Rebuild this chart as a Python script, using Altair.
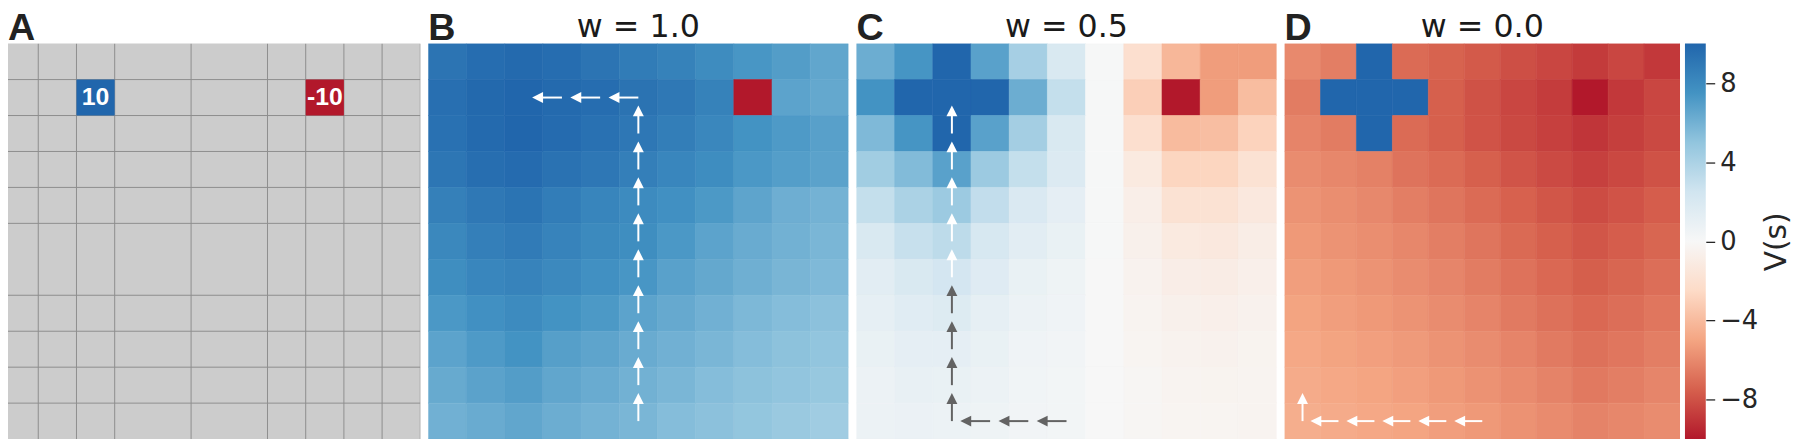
import altair as alt
import pandas as pd

N = 11
ROWS = list(range(N))
COLS = list(range(N))

# ---- Panel A: reward locations ----
reward_row = [1, 1]
reward_col = [2, 8]
reward_val = [10, -10]
# grid lines visible in panel A (column / row boundaries)
grid_cols_drawn = [1, 2, 3, 5, 7, 8, 9, 10, 11]
grid_rows_drawn = [1, 2, 3, 4, 5, 7, 8, 9, 10]

# ---- Value maps V(s) ----
V_w10 = [
    [9.2, 9.6, 9.8, 9.6, 9.2, 8.8, 8.45, 7.9, 7.35, 7.0, 6.55],
    [9.5, 9.85, 10.0, 9.8, 9.6, 9.3, 9.0, 8.45, -10.0, 6.7, 6.45],
    [9.4, 9.8, 10.0, 9.7, 9.4, 9.05, 8.65, 8.15, 7.5, 7.15, 6.85],
    [9.1, 9.55, 9.7, 9.35, 9.05, 8.6, 8.2, 7.85, 7.25, 6.95, 6.75],
    [8.55, 9.0, 9.25, 8.75, 8.3, 7.95, 7.65, 7.2, 6.65, 6.15, 5.95],
    [8.1, 8.6, 8.85, 8.4, 8.0, 7.8, 7.25, 6.7, 6.3, 6.0, 5.75],
    [7.8, 8.2, 8.4, 8.05, 7.65, 7.35, 6.8, 6.45, 6.1, 5.8, 5.6],
    [7.25, 7.65, 7.95, 7.5, 7.2, 6.7, 6.4, 6.05, 5.65, 5.4, 5.2],
    [6.7, 7.15, 7.5, 6.9, 6.65, 6.3, 6.05, 5.75, 5.4, 5.15, 5.0],
    [6.35, 6.75, 7.0, 6.55, 6.3, 6.0, 5.75, 5.4, 5.15, 5.0, 4.8],
    [6.05, 6.3, 6.55, 6.2, 5.95, 5.75, 5.4, 5.2, 4.95, 4.7, 4.45],
]
V_w05 = [
    [6.2, 7.4, 10.0, 6.8, 4.2, 2.0, 0.05, -2.1, -4.15, -5.3, -5.3],
    [7.5, 10.0, 10.0, 10.0, 6.2, 3.0, 0.05, -3.05, -10.0, -5.3, -3.9],
    [5.6, 7.4, 10.0, 6.8, 4.3, 2.0, 0.05, -2.1, -4.0, -3.85, -2.85],
    [4.4, 5.5, 6.8, 4.6, 3.0, 1.8, 0.05, -1.2, -2.75, -2.75, -1.85],
    [3.0, 4.0, 4.6, 3.1, 1.9, 1.2, 0.05, -0.8, -1.85, -1.85, -1.3],
    [2.0, 2.9, 3.3, 2.1, 1.4, 0.9, 0.05, -0.6, -1.2, -1.3, -0.9],
    [1.4, 2.0, 2.3, 1.6, 0.9, 0.6, 0.03, -0.45, -0.85, -0.95, -0.7],
    [1.1, 1.5, 1.7, 1.1, 0.7, 0.5, 0.03, -0.35, -0.6, -0.7, -0.5],
    [0.9, 1.2, 1.2, 0.9, 0.5, 0.4, 0.02, -0.3, -0.45, -0.5, -0.4],
    [0.7, 1.0, 0.9, 0.7, 0.45, 0.3, 0.02, -0.2, -0.35, -0.4, -0.35],
    [0.7, 0.8, 0.7, 0.6, 0.4, 0.3, 0.02, -0.2, -0.3, -0.3, -0.35],
]
V_w00 = [
    [-6.0, -6.4, 10.0, -7.1, -7.4, -7.7, -8.1, -8.4, -8.8, -8.4, -8.9],
    [-6.5, 10.0, 10.0, 10.0, -7.5, -8.0, -8.4, -8.75, -10.0, -8.9, -8.4],
    [-6.2, -6.5, 10.0, -7.1, -7.5, -7.95, -8.3, -8.6, -9.0, -8.65, -8.3],
    [-5.9, -6.1, -6.3, -6.8, -7.1, -7.5, -7.9, -8.25, -8.6, -8.35, -8.0],
    [-5.65, -5.85, -6.05, -6.4, -6.75, -7.1, -7.45, -7.85, -8.2, -7.95, -7.6],
    [-5.45, -5.65, -5.85, -6.1, -6.4, -6.75, -7.15, -7.5, -7.85, -7.6, -7.3],
    [-5.25, -5.45, -5.65, -5.9, -6.15, -6.5, -6.85, -7.2, -7.55, -7.3, -7.0],
    [-5.05, -5.25, -5.45, -5.65, -5.9, -6.2, -6.55, -6.9, -7.2, -7.0, -6.7],
    [-4.85, -5.05, -5.2, -5.4, -5.65, -5.9, -6.2, -6.55, -6.9, -6.7, -6.4],
    [-4.7, -4.85, -5.0, -5.2, -5.45, -5.7, -5.95, -6.25, -6.6, -6.4, -6.15],
    [-4.6, -4.7, -4.85, -5.0, -5.25, -5.45, -5.7, -5.95, -6.25, -6.1, -5.9],
]

# ---- Greedy paths (row, col) ----
path_w10 = [(10, 5), (9, 5), (8, 5), (7, 5), (6, 5), (5, 5), (4, 5), (3, 5),
            (2, 5), (1, 5), (1, 4), (1, 3), (1, 2)]
path_w05 = [(10, 5), (10, 4), (10, 3), (10, 2), (9, 2), (8, 2), (7, 2), (6, 2),
            (5, 2), (4, 2), (3, 2), (2, 2), (1, 2)]
path_w00 = [(10, 5), (10, 4), (10, 3), (10, 2), (10, 1), (10, 0), (9, 0)]

# ---- Colour bar ----
cbar_domain = [-10, 10]
cbar_ticks = [8, 4, 0, -4, -8]
color_stops = [-10, -7.5, -5, -2.5, 0, 2.5, 5, 7.5, 10]
color_hex = ["#b2182b", "#d6604d", "#f4a582", "#fddbc7", "#f7f7f7",
             "#d1e5f0", "#92c5de", "#4393c3", "#2166ac"]

# ---------------------------------------------------------------
PANEL_H = 399
A_CUT = N * 8 / 424.0
color_scale = alt.Scale(domain=color_stops, range=color_hex, interpolate="rgb")
y_scale = alt.Scale(domain=[0, N], reverse=True, nice=False, zero=False)
SHAFT, TIP = 0.6, 0.78
DIR_ANGLE = {(-1, 0): 0, (0, 1): 90, (1, 0): 180, (0, -1): 270}
ARROW = "M0,0L-1,2L1,2Z"


def xsc(lo):
    return alt.Scale(domain=[lo, N], nice=False, zero=False)


def cells_df(V):
    return pd.DataFrame([
        {"row": r, "col": c, "row2": r + 1, "col2": c + 1, "v": V[r][c]}
        for r in ROWS for c in COLS
    ])


def arrows_df(path, V):
    recs = []
    for (r0, c0), (r1, c1) in zip(path[:-1], path[1:]):
        dr, dc = r1 - r0, c1 - c0
        cx, cy = c0 + 0.5, r0 + 0.5
        recs.append({
            "xs": cx, "ys": cy,
            "xe": cx + SHAFT * dc, "ye": cy + SHAFT * dr,
            "xt": cx + TIP * dc, "yt": cy + TIP * dr,
            "ang": DIR_ANGLE[(dr, dc)], "v": V[r0][c0],
        })
    return pd.DataFrame(recs)


def text_layers(letter, title, lo):
    sc = xsc(lo)
    out = [alt.Chart(pd.DataFrame({"x": [lo], "y": [0], "t": [letter]})).mark_text(
        align="left", baseline="alphabetic", dy=-4, font="Liberation Sans",
        fontWeight="bold", fontSize=38, color="#222222"
    ).encode(x=alt.X("x:Q", scale=sc, axis=None),
             y=alt.Y("y:Q", scale=y_scale, axis=None), text="t:N")]
    if title:
        out.append(alt.Chart(pd.DataFrame({"x": [N / 2], "y": [0], "t": [title]})).mark_text(
            align="center", baseline="alphabetic", dy=-7, font="DejaVu Sans",
            fontSize=32, color="#1a1a1a"
        ).encode(x=alt.X("x:Q", scale=sc, axis=None),
                 y=alt.Y("y:Q", scale=y_scale, axis=None), text="t:N"))
    return out


def value_panel(V, path, letter, title, width):
    sc = xsc(0)
    cells = alt.Chart(cells_df(V)).mark_rect(clip=True, strokeWidth=0.6).encode(
        x=alt.X("col:Q", scale=sc, axis=None), x2="col2:Q",
        y=alt.Y("row:Q", scale=y_scale, axis=None), y2="row2:Q",
        fill=alt.Fill("v:Q", scale=color_scale, legend=None),
        stroke=alt.Stroke("v:Q", scale=color_scale, legend=None),
    )
    adf = arrows_df(path, V)
    acol = alt.condition("abs(datum.v) > 2", alt.value("#ffffff"), alt.value("#636363"))
    shafts = alt.Chart(adf).mark_rule(strokeWidth=2, strokeCap="butt").encode(
        x=alt.X("xs:Q", scale=sc, axis=None), x2="xe:Q",
        y=alt.Y("ys:Q", scale=y_scale, axis=None), y2="ye:Q",
        stroke=acol,
    )
    heads = alt.Chart(adf).mark_point(shape=ARROW, filled=True, size=121,
                                      opacity=1, strokeWidth=0).encode(
        x=alt.X("xt:Q", scale=sc, axis=None),
        y=alt.Y("yt:Q", scale=y_scale, axis=None),
        angle=alt.Angle("ang:Q", scale=None),
        fill=acol,
    )
    return alt.layer(cells, shafts, heads, *text_layers(letter, title, 0)).properties(
        width=width, height=PANEL_H)


# ---- Panel A ----
scA = xsc(A_CUT)
rew = pd.DataFrame({"row": reward_row, "col": reward_col, "r": reward_val})
rew["row2"] = rew["row"] + 1
rew["col2"] = rew["col"] + 1
rew["cx"] = rew["col"] + 0.5
rew["cy"] = rew["row"] + 0.5
rew["lab"] = [str(v) for v in reward_val]

vlines = alt.Chart(pd.DataFrame({"k": grid_cols_drawn})).mark_rule(
    clip=True, color="#8e8e8e", strokeWidth=1).encode(
    x=alt.X("k:Q", scale=scA, axis=None))
hlines = alt.Chart(pd.DataFrame({"k": grid_rows_drawn})).mark_rule(
    clip=True, color="#8e8e8e", strokeWidth=1).encode(
    y=alt.Y("k:Q", scale=y_scale, axis=None))
rcells = alt.Chart(rew).mark_rect(clip=True).encode(
    x=alt.X("col:Q", scale=scA, axis=None), x2="col2:Q",
    y=alt.Y("row:Q", scale=y_scale, axis=None), y2="row2:Q",
    fill=alt.Fill("r:Q", scale=color_scale, legend=None),
)
rtext = alt.Chart(rew).mark_text(font="Liberation Sans", fontWeight="bold",
                                 fontSize=25, color="white", baseline="middle").encode(
    x=alt.X("cx:Q", scale=scA, axis=None),
    y=alt.Y("cy:Q", scale=y_scale, axis=None),
    text="lab:N",
)
panelA = alt.layer(hlines, vlines, rcells, rtext, *text_layers("A", None, A_CUT)).properties(
    width=416, height=PANEL_H,
    view=alt.ViewBackground(fill="#cccccc", strokeWidth=0))

panelB = value_panel(V_w10, path_w10, "B", "w = 1.0", 424)
panelC = value_panel(V_w05, path_w05, "C", "w = 0.5", 424)
panelD = value_panel(V_w00, path_w00, "D", "w = 0.0", 399)

# ---- Colour bar ----
lo, hi = cbar_domain
grad = alt.LinearGradient(
    gradient="linear",
    stops=[alt.GradientStop(color=c, offset=(s - lo) / (hi - lo))
           for s, c in zip(color_stops, color_hex)],
    x1=0, x2=0, y1=1, y2=0,
)
cbar = alt.Chart(pd.DataFrame({"lo": [lo], "hi": [hi]})).mark_rect(fill=grad).encode(
    y=alt.Y("lo:Q", scale=alt.Scale(domain=cbar_domain, nice=False, zero=False),
            axis=alt.Axis(orient="right", values=cbar_ticks, tickSize=9, tickWidth=1.3,
                          tickColor="#262626", domain=False, grid=False,
                          labelFontSize=26, labelFont="DejaVu Sans", labelColor="#262626",
                          labelPadding=5, title="V(s)", titleFont="DejaVu Sans",
                          titleFontSize=30, titleFontWeight="normal", titleColor="#262626",
                          titleAngle=270, titleBaseline="top", titleAlign="center",
                          titlePadding=4)),
    y2="hi:Q",
).properties(width=21, height=PANEL_H)

chart = alt.hconcat(
    panelA, panelB, panelC,
    alt.hconcat(panelD, cbar, spacing=5),
    spacing=8,
).properties(
    padding={"left": 0, "top": 0, "right": 0, "bottom": 0},
    background="white",
).configure_view(strokeWidth=0)

chart.save("out.html", embed_options={"renderer": "svg", "actions": False})
